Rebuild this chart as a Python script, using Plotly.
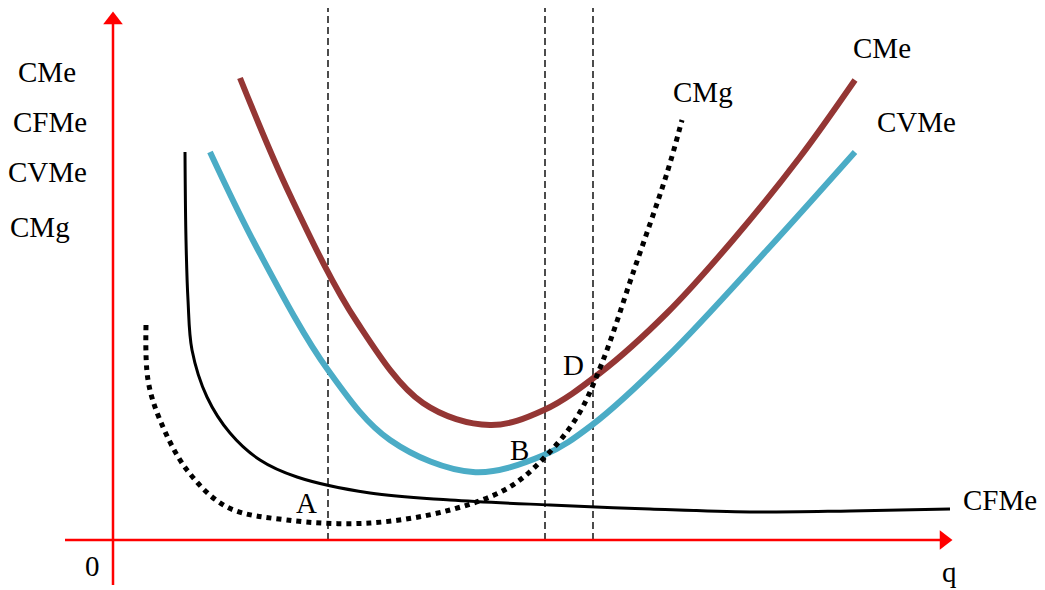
import plotly.graph_objects as go

# ---- data (q, cost) ----
cme_q = [127, 177, 244, 310, 377, 431, 487, 554, 620, 687, 742]
cme_c = [462, 345, 218, 137, 115, 130, 167, 227, 300, 383, 460]

cvme_q = [97, 144, 215, 277, 360, 431, 479, 554, 654, 742]
cvme_c = [388, 292, 170, 100, 68, 85, 115, 183, 290, 388]

cfme_q = [72, 73, 75, 79, 94, 117, 147, 184, 257, 337, 437, 537, 637, 737, 837]
cfme_c = [388, 300, 240, 190, 143, 107, 80, 63, 47, 40, 35, 31, 28, 29, 31]

cmg_q = [33, 35, 47, 74, 114, 174, 257, 337, 395, 432, 464, 489, 520, 554, 569]
cmg_c = [215, 160, 120, 70, 33, 20, 17, 30, 52, 83, 123, 177, 267, 367, 420]

q_marks = [215, 432, 480]   # A, B, D
axis_x = [-48, 837]
axis_y = [-45, 526]

FONT = "Liberation Serif"
fig = go.Figure()

# dashed verticals
for qm in q_marks:
    fig.add_trace(go.Scatter(x=[qm, qm], y=[0, 540], mode="lines",
                             line=dict(color="black", width=1.4, dash="7px,4px"),
                             hoverinfo="skip"))

# axes
fig.add_trace(go.Scatter(x=axis_x, y=[0, 0], mode="lines",
                         line=dict(color="#ff0000", width=2.5), hoverinfo="skip"))
fig.add_trace(go.Scatter(x=[0, 0], y=axis_y, mode="lines",
                         line=dict(color="#ff0000", width=2.5), hoverinfo="skip"))
fig.add_trace(go.Scatter(x=[axis_x[1] - 6], y=[0], mode="markers",
                         marker=dict(symbol="triangle-right", size=17, color="#ff0000",
                                     line=dict(width=0)), hoverinfo="skip"))
fig.add_trace(go.Scatter(x=[0], y=[axis_y[1] - 6], mode="markers",
                         marker=dict(symbol="triangle-up", size=17, color="#ff0000",
                                     line=dict(width=0)), hoverinfo="skip"))

# curves
fig.add_trace(go.Scatter(x=cfme_q, y=cfme_c, mode="lines", line_shape="spline",
                         line=dict(color="black", width=3, smoothing=1.0)))
fig.add_trace(go.Scatter(x=cvme_q, y=cvme_c, mode="lines", line_shape="spline",
                         line=dict(color="#4BACC6", width=6, smoothing=1.0)))
fig.add_trace(go.Scatter(x=cme_q, y=cme_c, mode="lines", line_shape="spline",
                         line=dict(color="#943634", width=6, smoothing=1.0)))
fig.add_trace(go.Scatter(x=cmg_q, y=cmg_c, mode="lines", line_shape="spline",
                         line=dict(color="black", width=5, dash="dot", smoothing=1.0)))

labels = [
    ("CMe", -66, 468), ("CFMe", -63, 418), ("CVMe", -66, 368), ("CMg", -73, 313),
    ("CMe", 769, 492), ("CVMe", 803, 418), ("CMg", 590, 448), ("CFMe", 887, 40),
    ("A", 193, 37), ("B", 406, 90), ("D", 460, 175), ("0", -21, -26), ("q", 836, -32),
]
for t, x, y in labels:
    fig.add_annotation(x=x, y=y, text=t, showarrow=False,
                       font=dict(family=FONT, size=29, color="black"),
                       xanchor="center", yanchor="middle")

fig.update_layout(
    width=1037, height=582, autosize=False,
    margin=dict(l=0, r=0, t=0, b=0),
    plot_bgcolor="white", paper_bgcolor="white",
    showlegend=False,
    xaxis=dict(range=[-105, 932], visible=False, fixedrange=True),
    yaxis=dict(range=[-50, 532], visible=False, fixedrange=True),
)
fig.write_html("out.html")
